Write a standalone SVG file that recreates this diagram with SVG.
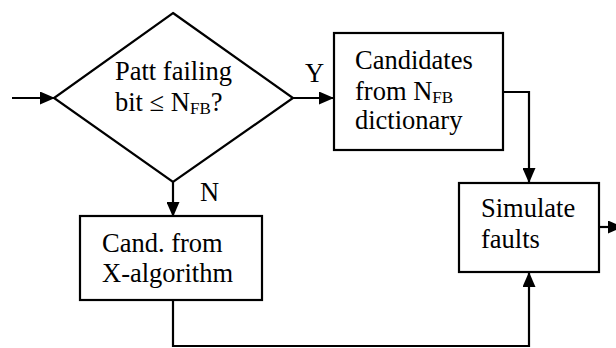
<svg xmlns="http://www.w3.org/2000/svg" width="616" height="348" viewBox="0 0 616 348">
  <style>
    .shape { fill: #fff; stroke: #000; stroke-width: 2.2; }
    .wire { fill: none; stroke: #000; stroke-width: 2.2; marker-end: url(#head); }
    text { font-family: "Liberation Serif", "Times New Roman", serif; font-size: 26.5px; fill: #000; }
    .sub { font-size: 17px; }
  </style>
  <defs>
    <marker id="head" markerUnits="userSpaceOnUse" markerWidth="15" markerHeight="13" refX="15" refY="6.5" orient="auto">
      <path d="M0,0 L15,6.5 L0,13 z" fill="#000"/>
    </marker>
  </defs>

  <g id="connectors">
    <path class="wire" d="M12,98 H55"/>
    <path class="wire" d="M293,98 H334"/>
    <path class="wire" d="M173,182 V217"/>
    <path class="wire" d="M503,92 H529 V183"/>
    <path class="wire" d="M173,300 V346 H529 V272"/>
    <path class="wire" d="M599,227 H623"/>
    <text x="305" y="82">Y</text>
    <text x="200" y="201">N</text>
  </g>

  <g id="decision">
    <polygon class="shape" points="173,13 293,98 173,182 54,98"/>
    <text x="115" y="80">Patt failing</text>
    <text x="115" y="111">bit ≤ N<tspan class="sub" dy="3">FB</tspan><tspan dy="-3">?</tspan></text>
  </g>

  <g id="dictionary">
    <rect class="shape" x="334" y="33" width="169" height="117"/>
    <text x="355" y="69">Candidates</text>
    <text x="355" y="100">from N<tspan class="sub" dy="3">FB</tspan></text>
    <text x="355" y="129">dictionary</text>
  </g>

  <g id="xalgorithm">
    <rect class="shape" x="80" y="216" width="182" height="84"/>
    <text x="102" y="252">Cand. from</text>
    <text x="102" y="282">X-algorithm</text>
  </g>

  <g id="simulate">
    <rect class="shape" x="459" y="183" width="140" height="89"/>
    <text x="481" y="217">Simulate</text>
    <text x="481" y="248">faults</text>
  </g>
</svg>
